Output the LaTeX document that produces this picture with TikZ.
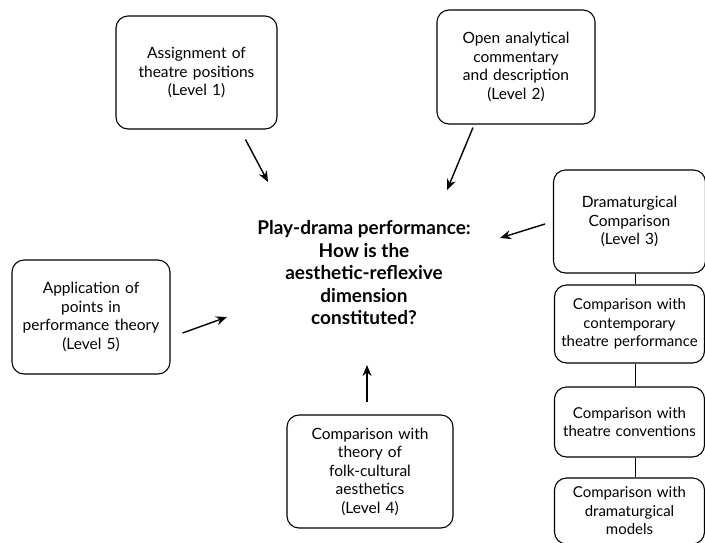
\documentclass[tikz,border=0pt]{standalone}
\usepackage{fontspec}
\setmainfont{Lato}
\usetikzlibrary{arrows.meta,positioning}

\begin{document}
\begin{tikzpicture}[x=1pt, y=-1pt,
        levelCard/.style={draw=black, rounded corners=12pt, line width=1.1pt, font=\fontsize{15.5}{18.5}\selectfont, align=center, inner sep=4pt},
        arrowStyle/.style={-{Stealth[length=11pt,width=9pt]}, line width=1.4pt, draw=black},
        linkStyle/.style={line width=1pt, draw=black}
    ]
        \useasboundingbox (0,0) rectangle (705,542);

        % Centre question
        \node[font=\bfseries\fontsize{19}{22.5}\selectfont, align=center] (core) at (364,273) {
            Play-drama performance:\\
            How is the\\
            aesthetic-reflexive\\
            dimension\\
            constituted?
        };

        % Levels round the centre
        \node[levelCard, minimum width=161pt, minimum height=113pt, text width=150pt] (lvlOne) at (196.5,72.5) {
            Assignment of\\ theatre positions\\ (Level 1)
        };
        \node[levelCard, minimum width=158pt, minimum height=114pt, text width=148pt] (lvlTwo) at (516,67) {
            Open analytical\\ commentary\\ and description\\ (Level 2)
        };
        \node[levelCard, minimum width=158pt, minimum height=114pt, text width=150pt] (lvlFive) at (91,317) {
            Application of\\ points in\\ performance theory\\ (Level 5)
        };
        \node[levelCard, minimum width=166pt, minimum height=113pt, text width=150pt] (lvlFour) at (370,471.5) {
            Comparison with\\ theory of\\ folk-cultural\\ aesthetics\\ (Level 4)
        };

        % Right column: Level 3 and its comparisons
        \node[levelCard, minimum width=150pt, minimum height=103pt, text width=144pt] (lvlThree) at (629.5,221.5) {
            Dramaturgical\\ Comparison\\ (Level 3)\\[8pt]
        };
        \node[levelCard, font=\fontsize{15}{18.5}\selectfont, minimum width=150pt, minimum height=78pt, text width=148pt, inner sep=1pt] (cmpStage) at (629.5,324) {
            Comparison with\\ contemporary\\ theatre performance
        };
        \node[levelCard, font=\fontsize{15}{18.5}\selectfont, minimum width=150pt, minimum height=70pt, text width=148pt, inner sep=1pt] (cmpConv) at (629.5,422) {
            Comparison with\\ theatre conventions
        };
        \node[levelCard, font=\fontsize{15}{18.5}\selectfont, minimum width=150pt, minimum height=66pt, text width=148pt, inner sep=1pt] (cmpModel) at (629.5,511) {
            Comparison with\\ dramaturgical\\ models
        };

        \draw[linkStyle] ([xshift=6pt]lvlThree.south) -- ([xshift=6pt]cmpStage.north);
        \draw[linkStyle] ([xshift=6pt]cmpStage.south) -- ([xshift=6pt]cmpConv.north);
        \draw[linkStyle] ([xshift=6pt]cmpConv.south) -- ([xshift=6pt]cmpModel.north);

        % Arrows into the question
        \coordinate (tipOne) at (268,182);
        \coordinate (tipTwo) at (447,190);
        \coordinate (tipThree) at (500,238);
        \coordinate (tipFour) at (367,365);
        \coordinate (tipFive) at (227,317);
        \draw[arrowStyle] ([shift={(49,10)}]lvlOne.south) -- (tipOne);
        \draw[arrowStyle] ([shift={(-43,3)}]lvlTwo.south) -- (tipTwo);
        \draw[arrowStyle] ([shift={(-8,2.5)}]lvlThree.west) -- (tipThree);
        \draw[arrowStyle] ([shift={(-3,-12)}]lvlFour.north) -- (tipFour);
        \draw[arrowStyle] ([shift={(12,16)}]lvlFive.east) -- (tipFive);
    \end{tikzpicture}
\end{document}
